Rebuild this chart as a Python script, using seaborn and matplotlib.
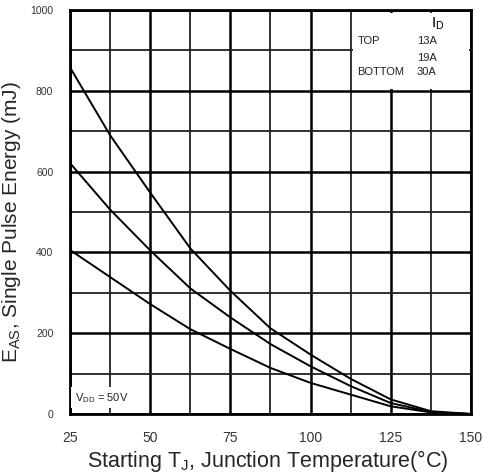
import numpy as np
import pandas as pd
import matplotlib
matplotlib.use("Agg")
import matplotlib.pyplot as plt
from matplotlib.patches import Rectangle
import seaborn as sns

# ---- data ----
temps = [25, 37.5, 50, 62.5, 75, 87.5, 100, 112.5, 125, 137.5, 150]
eas_13a = [858, 690, 548, 410, 305, 212, 147, 87, 36, 7, 0]
eas_19a = [621, 506, 405, 311, 239, 173, 118, 69, 27, 5, 0]
eas_30a = [406, 339, 272, 210, 161, 114, 77, 48, 19, 4, 0]
currents = ["13A", "19A", "30A"]
x_ticks = [25, 50, 75, 100, 125, 150]
y_ticks = [0, 200, 400, 600, 800, 1000]

df = pd.DataFrame({
    "T": temps * 3,
    "EAS": eas_13a + eas_19a + eas_30a,
    "ID": [currents[0]] * len(temps) + [currents[1]] * len(temps) + [currents[2]] * len(temps),
})

sns.set_style("white")
plt.rcParams["font.family"] = ["Liberation Sans", "DejaVu Sans"]

fig = plt.figure(figsize=(4.85, 4.73), dpi=100)
ax = fig.add_axes([70/485, 59/473, 401/485, 404/473])

sns.lineplot(data=df, x="T", y="EAS", hue="ID",
             palette={c: "black" for c in currents},
             estimator=None, sort=True, legend=False, linewidth=1.4,
             ax=ax, zorder=5)

ax.set_xlim(25, 150)
ax.set_ylim(0, 1000)
ax.set_xticks(x_ticks)
ax.set_xticklabels([str(v) for v in x_ticks])
ax.set_yticks(y_ticks)
ax.set_yticklabels([str(v) for v in y_ticks])
ax.set_xticks(np.arange(37.5, 150, 25), minor=True)
ax.set_yticks(np.arange(100, 1000, 200), minor=True)

ax.grid(which="major", color="black", linewidth=1.8, zorder=1)
ax.grid(which="minor", color="#222222", linewidth=1.3, zorder=1)
ax.set_axisbelow(True)

ax.tick_params(axis="both", which="both", length=0)
ax.tick_params(axis="x", pad=12, labelsize=10, labelcolor="#333333")
ax.tick_params(axis="y", pad=12, labelsize=7.5, labelcolor="#333333")

for s in ax.spines.values():
    s.set_color("black")
    s.set_linewidth(2)

ax.set_xlabel(r"Starting T$_\mathregular{J}$, Junction Temperature(°C)", fontsize=15.5)
ax.set_ylabel(r"E$_\mathregular{AS}$, Single Pulse Energy (mJ)", fontsize=15)
ax.xaxis.set_label_coords(0.494, -0.084)
ax.yaxis.set_label_coords(-0.117, 0.475)

# legend block (white area with text)
ax.add_patch(Rectangle((0.706, 0.804), 0.289, 0.189, transform=ax.transAxes,
                       facecolor="white", edgecolor="none", zorder=3))
lc = "#222222"
ax.text(0.918, 0.965, r"I$_\mathregular{D}$", transform=ax.transAxes, fontsize=11,
        ha="center", va="center", color="black", zorder=6)
ax.text(0.718, 0.923, "TOP", transform=ax.transAxes, fontsize=8, ha="left", va="center", color=lc, zorder=6)
ax.text(0.865, 0.923, currents[0], transform=ax.transAxes, fontsize=8, ha="left", va="center", color=lc, zorder=6)
ax.text(0.865, 0.881, currents[1], transform=ax.transAxes, fontsize=8, ha="left", va="center", color=lc, zorder=6)
ax.text(0.716, 0.847, "BOTTOM", transform=ax.transAxes, fontsize=8, ha="left", va="center", color=lc, zorder=6)
ax.text(0.865, 0.847, currents[2], transform=ax.transAxes, fontsize=8, ha="left", va="center", color=lc, zorder=6)

ax.text(0.012, 0.040, r"V$_\mathregular{DD}$ = 50V", transform=ax.transAxes, fontsize=8,
        ha="left", va="center", color=lc, zorder=6,
        bbox=dict(facecolor="white", edgecolor="none", pad=2.5))

fig.savefig("out.png", dpi=100)
